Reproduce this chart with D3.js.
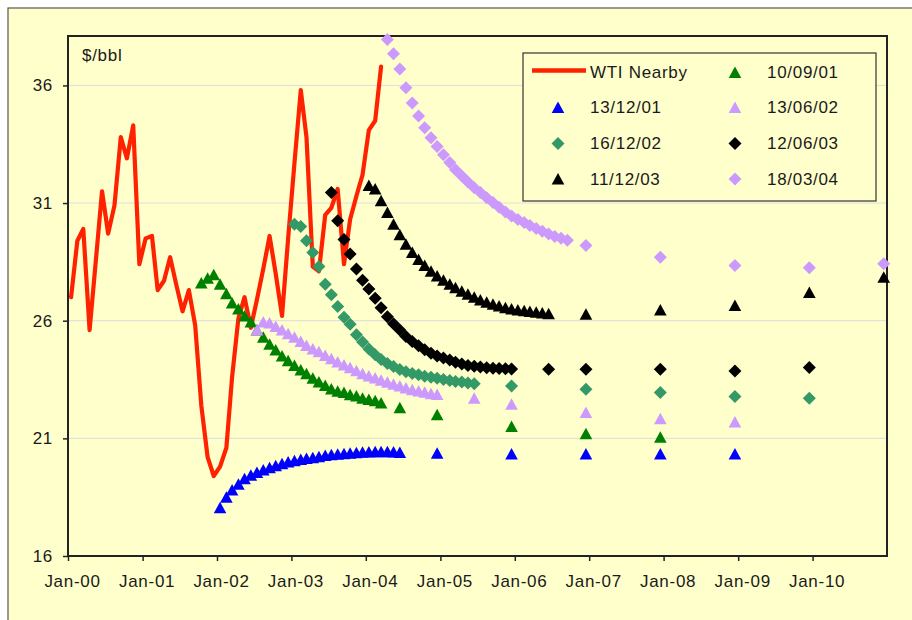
<!DOCTYPE html>
<html><head><meta charset="utf-8">
<script src="https://cdn.jsdelivr.net/npm/d3@7"></script>
<style>body{margin:0;background:#fff}svg{display:block}text{font-family:"Liberation Sans",Arial,sans-serif;fill:#1a1a1a}</style>
</head><body><svg id="c" width="912" height="620"></svg>
<script>
// ---- DATA ----
const yTicks = [16, 21, 26, 31, 36];
const xTickYears = [2000, 2001, 2002, 2003, 2004, 2005, 2006, 2007, 2008, 2009, 2010];
const xTickLabels = ["Jan-00","Jan-01","Jan-02","Jan-03","Jan-04","Jan-05","Jan-06","Jan-07","Jan-08","Jan-09","Jan-10"];

// WTI nearby, monthly from Jan-00
const wtiStart = "2000-01";
const wtiValues = [27.0, 29.4, 29.9, 25.6, 28.5, 31.5, 29.7, 30.9, 33.8, 32.9, 34.3, 28.4,
  29.5, 29.6, 27.3, 27.7, 28.7, 27.5, 26.4, 27.3, 25.8, 22.4, 20.2, 19.4,
  19.8, 20.6, 23.6, 26.1, 27.0, 25.7, 26.9, 28.2, 29.6, 28.0, 26.2, 29.5,
  32.7, 35.8, 33.8, 28.3, 28.1, 30.5, 30.8, 31.6, 28.4, 30.3, 31.3, 32.2,
  34.1, 34.5, 36.8];

// Forward curves: first 30 monthly contracts + later contracts
const c100901Start = "2001-10";
const c100901Monthly = [27.6, 27.8, 27.95, 27.55, 27.15, 26.75, 26.5, 26.2, 25.95, 25.6, 25.3, 25.0, 24.75, 24.5, 24.3, 24.1, 23.9, 23.75, 23.55, 23.4, 23.25, 23.1, 23.0, 22.95, 22.85, 22.8, 22.7, 22.65, 22.6, 22.5];
const c100901TailMonths = ["2004-06", "2004-12", "2005-12", "2006-12", "2007-12"];
const c100901TailValues = [22.3, 22.0, 21.5, 21.2, 21.05];

const c131201Start = "2002-01";
const c131201Monthly = [18.05, 18.5, 18.8, 19.05, 19.28, 19.43, 19.55, 19.66, 19.75, 19.84, 19.92, 19.99, 20.05, 20.1, 20.14, 20.18, 20.22, 20.27, 20.3, 20.32, 20.35, 20.37, 20.39, 20.41, 20.42, 20.43, 20.43, 20.43, 20.42, 20.4];
const c131201TailMonths = ["2004-12", "2005-12", "2006-12", "2007-12", "2008-12"];
const c131201TailValues = [20.37, 20.33, 20.33, 20.33, 20.33];

const c130602Start = "2002-07";
const c130602Monthly = [25.6, 25.95, 25.9, 25.75, 25.6, 25.45, 25.3, 25.12, 24.95, 24.8, 24.68, 24.52, 24.38, 24.25, 24.12, 24.0, 23.87, 23.75, 23.65, 23.56, 23.47, 23.38, 23.3, 23.22, 23.14, 23.07, 23.01, 22.96, 22.9, 22.86];
const c130602TailMonths = ["2005-06", "2005-12", "2006-12", "2007-12", "2008-12"];
const c130602TailValues = [22.7, 22.45, 22.1, 21.83, 21.69];

const c161202Start = "2003-01";
const c161202Monthly = [30.1, 30.0, 29.4, 28.9, 28.3, 27.55, 27.1, 26.6, 26.15, 25.85, 25.4, 25.1, 24.8, 24.55, 24.35, 24.18, 24.05, 23.93, 23.83, 23.76, 23.7, 23.64, 23.6, 23.55, 23.5, 23.46, 23.42, 23.39, 23.35, 23.32];
const c161202TailMonths = ["2005-12", "2006-12", "2007-12", "2008-12", "2009-12"];
const c161202TailValues = [23.23, 23.09, 22.95, 22.78, 22.7];

const c120603Start = "2003-07";
const c120603Monthly = [31.45, 30.25, 29.45, 28.83, 28.2, 27.72, 27.35, 26.95, 26.55, 26.17, 25.87, 25.6, 25.33, 25.12, 24.94, 24.77, 24.62, 24.5, 24.42, 24.33, 24.23, 24.16, 24.1, 24.06, 24.03, 24.0, 23.98, 23.97, 23.96, 23.95];
const c120603TailMonths = ["2006-06", "2006-12", "2007-12", "2008-12", "2009-12"];
const c120603TailValues = [23.94, 23.94, 23.94, 23.86, 24.01];

const c111203Start = "2004-01";
const c111203Monthly = [31.75, 31.6, 31.1, 30.6, 30.1, 29.65, 29.25, 28.9, 28.6, 28.35, 28.1, 27.9, 27.72, 27.55, 27.4, 27.25, 27.12, 27.0, 26.88, 26.78, 26.7, 26.62, 26.55, 26.5, 26.45, 26.42, 26.39, 26.36, 26.33, 26.3];
const c111203TailMonths = ["2006-12", "2007-12", "2008-12", "2009-12", "2010-12"];
const c111203TailValues = [26.27, 26.45, 26.65, 27.2, 27.85];

const c180304Start = "2004-04";
const c180304Monthly = [37.95, 37.35, 36.7, 35.9, 35.25, 34.7, 34.2, 33.78, 33.4, 33.05, 32.72, 32.42, 32.15, 31.9, 31.65, 31.45, 31.23, 31.02, 30.82, 30.62, 30.45, 30.3, 30.17, 30.05, 29.92, 29.8, 29.68, 29.58, 29.5, 29.42];
const c180304TailMonths = ["2006-12", "2007-12", "2008-12", "2009-12", "2010-12"];
const c180304TailValues = [29.2, 28.7, 28.35, 28.25, 28.42];

const seriesNames = ["10/09/01", "13/12/01", "13/06/02", "16/12/02", "12/06/03", "11/12/03", "18/03/04"];

// ---- SETUP ----
const parseMonth = d3.timeParse("%Y-%m");
const mid = m => d3.timeDay.offset(m, 15);
function monthlyPoints(start, vals) {
  const s = parseMonth(start);
  return vals.map((v, i) => ({ d: mid(d3.timeMonth.offset(s, i)), v }));
}
function tailPoints(months, vals) {
  return months.map((m, i) => ({ d: mid(parseMonth(m)), v: vals[i] }));
}

const W = { l: 68, r: 887, t: 36, b: 556 };
const x = d3.scaleTime().domain([new Date(2000, 0, 1), new Date(2011, 0, 1)]).range([W.l, W.r]);
const y = d3.scaleLinear().domain([16, 38.1]).range([W.b, W.t]);

const svg = d3.select("#c");
const BG = "#FFFFCC";
svg.append("rect").attr("x", 8).attr("y", 8).attr("width", 920).attr("height", 630)
  .attr("fill", BG).attr("stroke", "#555").attr("stroke-width", 1.2);

// gridlines
svg.append("g").selectAll("line").data(yTicks.filter(t => t > 16)).join("line")
  .attr("x1", W.l).attr("x2", W.r).attr("y1", d => y(d)).attr("y2", d => y(d))
  .attr("stroke", "#DCDCE0").attr("stroke-width", 1);

// axes
const fontSize = 17, ls = "0.7px";
const yAxis = d3.axisLeft(y).tickValues(yTicks).tickSize(5).tickPadding(10).tickFormat(d3.format("d"));
const gy = svg.append("g").attr("transform", `translate(${W.l},0)`).call(yAxis);
gy.select(".domain").remove();
gy.selectAll(".tick line").attr("stroke", "#222").attr("stroke-width", 1.5);
gy.selectAll(".tick text").attr("font-size", fontSize).attr("letter-spacing", ls)
  .attr("font-family", "Liberation Sans, Arial, sans-serif").attr("fill", "#1a1a1a");

const xTickDates = xTickYears.map(yr => new Date(yr, 0, 1));
const xAxis = d3.axisBottom(x).tickValues(xTickDates).tickSize(5).tickPadding(14)
  .tickFormat((d, i) => xTickLabels[i]);
const gx = svg.append("g").attr("transform", `translate(0,${W.b})`).call(xAxis);
gx.select(".domain").remove();
gx.selectAll(".tick line").attr("stroke", "#222").attr("stroke-width", 1.5);
gx.selectAll(".tick text").attr("font-size", fontSize).attr("letter-spacing", ls).attr("dx", 4)
  .attr("font-family", "Liberation Sans, Arial, sans-serif").attr("fill", "#1a1a1a");

// plot frame
svg.append("rect").attr("x", W.l).attr("y", W.t).attr("width", W.r - W.l).attr("height", W.b - W.t)
  .attr("fill", "none").attr("stroke", "#222").attr("stroke-width", 2);

svg.append("text").attr("x", 82).attr("y", 61).attr("font-size", fontSize).attr("letter-spacing", ls).text("$/bbl");

// symbols
const tri = "M0,-6 L6.3,5.5 L-6.3,5.5 Z";
const dia = "M0,-6.5 L6.5,0 L0,6.5 L-6.5,0 Z";

// WTI line
const wti = monthlyPoints(wtiStart, wtiValues);
svg.append("path").datum(wti)
  .attr("d", d3.line().x(d => x(d.d)).y(d => y(d.v)))
  .attr("fill", "none").attr("stroke", "#FF2200").attr("stroke-width", 4.2)
  .attr("stroke-linejoin", "round").attr("stroke-linecap", "round");

const curves = [
  { name: seriesNames[0], shape: tri, color: "#008000", pts: monthlyPoints(c100901Start, c100901Monthly).concat(tailPoints(c100901TailMonths, c100901TailValues)) },
  { name: seriesNames[1], shape: tri, color: "#0000FF", pts: monthlyPoints(c131201Start, c131201Monthly).concat(tailPoints(c131201TailMonths, c131201TailValues)) },
  { name: seriesNames[2], shape: tri, color: "#CC99FF", pts: monthlyPoints(c130602Start, c130602Monthly).concat(tailPoints(c130602TailMonths, c130602TailValues)) },
  { name: seriesNames[3], shape: dia, color: "#339966", pts: monthlyPoints(c161202Start, c161202Monthly).concat(tailPoints(c161202TailMonths, c161202TailValues)) },
  { name: seriesNames[4], shape: dia, color: "#000000", pts: monthlyPoints(c120603Start, c120603Monthly).concat(tailPoints(c120603TailMonths, c120603TailValues)) },
  { name: seriesNames[5], shape: tri, color: "#000000", pts: monthlyPoints(c111203Start, c111203Monthly).concat(tailPoints(c111203TailMonths, c111203TailValues)) },
  { name: seriesNames[6], shape: dia, color: "#CC99FF", pts: monthlyPoints(c180304Start, c180304Monthly).concat(tailPoints(c180304TailMonths, c180304TailValues)) }
];

curves.forEach(c => {
  svg.append("g").selectAll("path").data(c.pts).join("path")
    .attr("d", c.shape).attr("fill", c.color)
    .attr("transform", d => `translate(${x(d.d)},${y(d.v)})`);
});

// legend
const L = svg.append("g");
L.append("rect").attr("x", 523).attr("y", 53).attr("width", 353).attr("height", 148)
  .attr("fill", BG).attr("stroke", "#333").attr("stroke-width", 1.2);
const rowY = [72.5, 107.5, 143.5, 179];
const colSym = [558, 735], colText = [590, 767];
const legendItems = [{ name: "WTI Nearby", line: true }].concat(curves);
legendItems.forEach((it, i) => {
  const col = i % 2, row = Math.floor(i / 2);
  const cy = rowY[row];
  if (it.line) {
    L.append("line").attr("x1", 532).attr("x2", 586).attr("y1", cy - 2).attr("y2", cy - 2)
      .attr("stroke", "#FF2200").attr("stroke-width", 4.5);
  } else {
    L.append("path").attr("d", it.shape).attr("fill", it.color)
      .attr("transform", `translate(${colSym[col]},${cy})`);
  }
  L.append("text").attr("x", colText[col]).attr("y", cy).attr("dy", "0.35em")
    .attr("font-size", fontSize).attr("letter-spacing", ls).text(it.name);
});
</script></body></html>
